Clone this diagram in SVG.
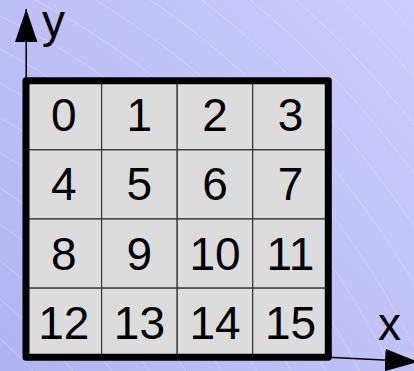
<svg xmlns="http://www.w3.org/2000/svg" width="414" height="371" viewBox="0 0 414 371">
<defs>
<linearGradient id="bg" x1="0" y1="371" x2="414" y2="0" gradientUnits="userSpaceOnUse">
<stop offset="0" stop-color="#b3b3f3"/>
<stop offset="1" stop-color="#cccdfa"/>
</linearGradient>
<marker id="arr" viewBox="0 -11.5 33 23" refX="33" refY="0" markerWidth="33" markerHeight="23" markerUnits="userSpaceOnUse" orient="auto">
<path d="M0,-11.2 L33,0 L0,11.2 Z" fill="#000"/>
</marker>
</defs>
<style>
.arc{fill:none;stroke:#ffffff;stroke-opacity:0.35;stroke-width:0.7}
.cell{fill:#dcdcdc;stroke:#333;stroke-width:1.2}
.num{font-family:"Liberation Sans",Arial,sans-serif;font-size:46px;fill:#000;text-anchor:middle}
.lab{font-family:"Liberation Sans",Arial,sans-serif;font-size:46px;fill:#000}
.axis{stroke:#000;stroke-width:1.5;fill:none}
</style>
<rect x="0" y="0" width="414" height="371" fill="url(#bg)"/>
<g id="background-arcs">
<circle class="arc" cx="-354" cy="733" r="500"/>
<circle class="arc" cx="-354" cy="733" r="530"/>
<circle class="arc" cx="-354" cy="733" r="560"/>
<circle class="arc" cx="-354" cy="733" r="590"/>
<circle class="arc" cx="-354" cy="733" r="620"/>
<circle class="arc" cx="-354" cy="733" r="650"/>
<circle class="arc" cx="-354" cy="733" r="680"/>
<circle class="arc" cx="-354" cy="733" r="710"/>
<circle class="arc" cx="-354" cy="733" r="740"/>
<circle class="arc" cx="-354" cy="733" r="770"/>
<circle class="arc" cx="-354" cy="733" r="800"/>
<circle class="arc" cx="-354" cy="733" r="830"/>
<circle class="arc" cx="-354" cy="733" r="860"/>
<circle class="arc" cx="-354" cy="733" r="890"/>
<circle class="arc" cx="-354" cy="733" r="920"/>
<circle class="arc" cx="-354" cy="733" r="950"/>
<circle class="arc" cx="-354" cy="733" r="980"/>
<circle class="arc" cx="-354" cy="733" r="1010"/>
<circle class="arc" cx="-354" cy="733" r="1040"/>
<circle class="arc" cx="-354" cy="733" r="1070"/>
</g>
<g id="connectors">
<line class="axis" x1="26.2" y1="80" x2="26.2" y2="9" marker-end="url(#arr)"/>
<line class="axis" x1="328" y1="357.2" x2="418" y2="361.8" marker-end="url(#arr)"/>
</g>
<g id="axis-labels">
<text class="lab" x="42" y="37">y</text>
<text class="lab" x="378" y="340">x</text>
</g>
<g id="grid">
<g id="c0"><rect class="cell" x="26" y="80.7" width="75.6" height="69.15"/><text class="num" x="63.8" y="131">0</text></g>
<g id="c1"><rect class="cell" x="101.6" y="80.7" width="75.6" height="69.15"/><text class="num" x="139.4" y="131">1</text></g>
<g id="c2"><rect class="cell" x="177.2" y="80.7" width="75.6" height="69.15"/><text class="num" x="215" y="131">2</text></g>
<g id="c3"><rect class="cell" x="252.7" y="80.7" width="75.6" height="69.15"/><text class="num" x="290.5" y="131">3</text></g>
<g id="c4"><rect class="cell" x="26" y="149.85" width="75.6" height="69.15"/><text class="num" x="63.8" y="200.2">4</text></g>
<g id="c5"><rect class="cell" x="101.6" y="149.85" width="75.6" height="69.15"/><text class="num" x="139.4" y="200.2">5</text></g>
<g id="c6"><rect class="cell" x="177.2" y="149.85" width="75.6" height="69.15"/><text class="num" x="215" y="200.2">6</text></g>
<g id="c7"><rect class="cell" x="252.7" y="149.85" width="75.6" height="69.15"/><text class="num" x="290.5" y="200.2">7</text></g>
<g id="c8"><rect class="cell" x="26" y="219" width="75.6" height="69.15"/><text class="num" x="63.8" y="269.5">8</text></g>
<g id="c9"><rect class="cell" x="101.6" y="219" width="75.6" height="69.15"/><text class="num" x="139.4" y="269.5">9</text></g>
<g id="c10"><rect class="cell" x="177.2" y="219" width="75.6" height="69.15"/><text class="num" x="215" y="269.5">10</text></g>
<g id="c11"><rect class="cell" x="252.7" y="219" width="75.6" height="69.15"/><text class="num" x="290.5" y="269.5">11</text></g>
<g id="c12"><rect class="cell" x="26" y="288.15" width="75.6" height="69.15"/><text class="num" x="63.8" y="338.7">12</text></g>
<g id="c13"><rect class="cell" x="101.6" y="288.15" width="75.6" height="69.15"/><text class="num" x="139.4" y="338.7">13</text></g>
<g id="c14"><rect class="cell" x="177.2" y="288.15" width="75.6" height="69.15"/><text class="num" x="215" y="338.7">14</text></g>
<g id="c15"><rect class="cell" x="252.7" y="288.15" width="75.6" height="69.15"/><text class="num" x="290.5" y="338.7">15</text></g>
</g>
<g id="frame">
<rect x="26" y="80.7" width="302.3" height="276.6" fill="none" stroke="#000" stroke-width="7" stroke-linejoin="round"/>
</g>
</svg>
